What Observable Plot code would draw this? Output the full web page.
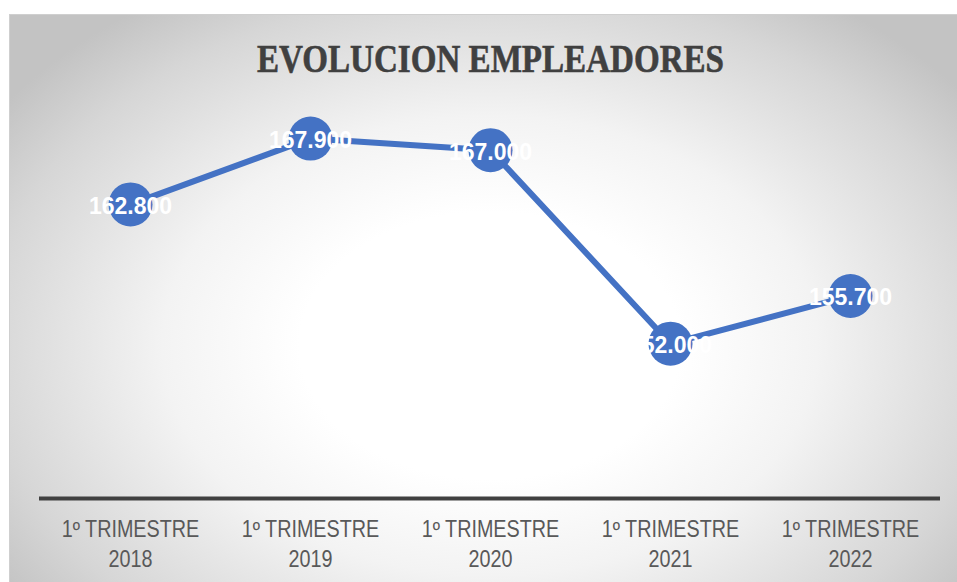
<!DOCTYPE html>
<html>
<head>
<meta charset="utf-8">
<script src="https://cdn.jsdelivr.net/npm/d3@7"></script>
<script src="https://cdn.jsdelivr.net/npm/@observablehq/plot@0.6"></script>
<style>
  html, body { margin: 0; padding: 0; background: #ffffff; width: 957px; height: 582px; overflow: hidden; }
  #frame {
    position: absolute; left: 9px; top: 14px; width: 960px; height: 580px;
    border-top: 1px solid #cfcfcf; border-left: 1px solid #cfcfcf;
    background: radial-gradient(ellipse 62% 72% at 50% 57%, #ffffff 32%, #f3f3f3 55%, #d6d6d6 85%, #c3c3c3 100%);
  }
  #title {
    position: absolute; left: 257px; top: 39px; margin: 0;
    font-family: "Liberation Serif", serif; font-weight: bold; font-size: 40px;
    color: #404040; white-space: nowrap; transform-origin: 0 0; line-height: 1;
    -webkit-text-stroke: 0.6px #404040;
  }
  #chart { position: absolute; left: 0; top: 100px; }
</style>
</head>
<body>
<div id="frame"></div>
<div id="title">EVOLUCION EMPLEADORES</div>
<div id="chart"></div>
<script>
const categories = ["1º TRIMESTRE 2018", "1º TRIMESTRE 2019", "1º TRIMESTRE 2020", "1º TRIMESTRE 2021", "1º TRIMESTRE 2022"];
const values = [162800, 167900, 167000, 152000, 155700];
const yDomain = [140000, 170000];

const data = categories.map((c, i) => ({cat: c, v: values[i]}));
const fmt = v => d3.format(",")(v).replace(/,/g, ".");
const blue = "#4472C4";

// Title: condense to the reference's width
const title = document.getElementById("title");
const ctx = document.createElement("canvas").getContext("2d");
ctx.font = 'bold 40px "Liberation Serif"';
const w = ctx.measureText(title.textContent).width;
title.style.transform = `scaleX(${467 / w})`;

const plot = Plot.plot({
  width: 957,
  height: 482,
  marginLeft: 39,
  marginRight: 17,
  marginTop: 11,
  marginBottom: 84,
  style: {background: "transparent", overflow: "visible"},
  x: {type: "point", domain: categories, padding: 0.5, label: null},
  y: {domain: yDomain, axis: null},
  marks: [
    Plot.axisX({
      tickSize: 0,
      tickPadding: 17,
      fontSize: 23,
      lineHeight: 1.3,
      fill: "#595959",
      fontFamily: '"Liberation Sans", sans-serif',
      tickFormat: d => d.replace(" 20", "\n20"),
      label: null
    }),
    Plot.ruleY([yDomain[0]], {stroke: "#404040", strokeWidth: 4}),
    Plot.line(data, {x: "cat", y: "v", stroke: blue, strokeWidth: 6}),
    Plot.dot(data, {x: "cat", y: "v", r: 22, fill: blue, stroke: "none"}),
    Plot.text(data, {
      x: "cat", y: "v", text: d => fmt(d.v), fill: "white",
      fontSize: 23, fontWeight: "bold", dy: 2,
      fontFamily: '"Liberation Sans", sans-serif'
    })
  ]
});
// condense tick labels horizontally (Calibri-like width)
d3.select(plot).selectAll('[aria-label="x-axis tick label"] text')
  .attr("transform", function() { return (this.getAttribute("transform") || "") + " scale(0.86,1)"; });
document.getElementById("chart").appendChild(plot);
</script>
</body>
</html>
